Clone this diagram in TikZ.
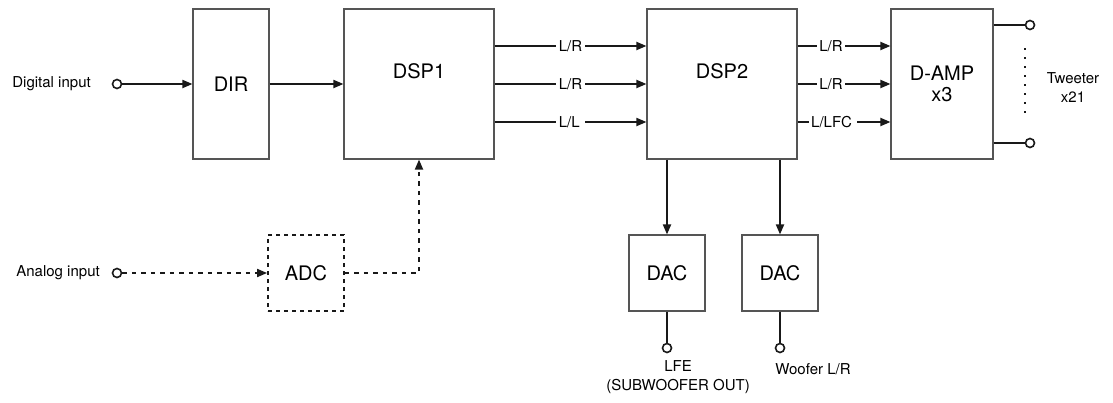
\documentclass[tikz,border=0pt]{standalone}
\usepackage{fontspec}
\setmainfont{TeX Gyre Heros}
\usepackage{tikz}
\usetikzlibrary{arrows.meta, positioning}
\definecolor{boxgray}{RGB}{85, 85, 85}
\definecolor{wiregray}{RGB}{25, 25, 25}

\begin{document}
\begin{tikzpicture}[x=1pt, y=-1pt,
  block/.style={rectangle, draw=boxgray, line width=1.1pt, inner sep=0pt, font=\fontsize{20}{22}\selectfont, align=center},
  dashblock/.style={block, draw=wiregray, line width=1.8pt, dash pattern=on 4pt off 4pt},
  wire/.style={draw=wiregray, line width=1.8pt},
  sig/.style={wire, -{Triangle[length=10pt, width=8pt]}},
  dashsig/.style={sig, dash pattern=on 4.5pt off 5pt},
  port/.style={circle, draw=wiregray, fill=white, line width=1.6pt, inner sep=0pt, minimum size=9pt},
  lbl/.style={fill=white, inner sep=2.5pt, font=\fontsize{15}{18}\selectfont},
  txt/.style={inner sep=0pt, font=\fontsize{15}{19}\selectfont, align=center}]

\useasboundingbox (0,0) rectangle (1113,402);

% Inputs
\node[txt, anchor=east] at (91,84) (dintxt) {Digital input};
\node[port] at (117,84) (dinport) {};
\node[txt, anchor=east] at (100,273) (aintxt) {Analog input};
\node[port] at (117,273) (ainport) {};

% Blocks
\node[block, minimum width=76, minimum height=150] at (231,84) (dir) {DIR};
\node[block, minimum width=150, minimum height=150] at (419,84) (dspone) {};
\node[block, draw=none] at (419,71) (dsponetxt) {DSP1};
\node[block, minimum width=150, minimum height=150] at (722,84) (dsptwo) {};
\node[block, draw=none] at (722,71) (dsptwotxt) {DSP2};
\node[block, minimum width=102, minimum height=150] at (942,84) (damp) {D-AMP\\[-1pt]x3};
\node[dashblock, minimum width=76, minimum height=76] at (306,273) (adc) {ADC};
\node[block, minimum width=76, minimum height=76] at (667,273) (dacone) {DAC};
\node[block, minimum width=76, minimum height=76] at (780,273) (dactwo) {DAC};

% Outputs
\node[port] at (1030,25) (tweeta) {};
\node[port] at (1030,143) (tweetb) {};
\node[txt] at (1073,88) (tweettxt) {Tweeter\\x21};
\node[port] at (667,348) (lfeport) {};
\node[port] at (780,348) (wooferport) {};
\node[txt] at (678,377) (lfetxt) {LFE\\(SUBWOOFER OUT)};
\node[txt] at (813,369) (woofertxt) {Woofer L/R};

% Connections
\draw[sig] (dinport) -- (dir);
\draw[sig] (dir) -- (dspone);
\draw[dashsig] (ainport) -- (adc);
\draw[dashsig] (adc.east) -| (dspone.south);

\draw[sig] ([yshift=38pt]dspone.east) -- node[lbl] {L/R} ([yshift=38pt]dsptwo.west);
\draw[sig] (dspone.east) -- node[lbl] {L/R} (dsptwo.west);
\draw[sig] ([yshift=-38pt]dspone.east) -- node[lbl] {L/L\,} ([yshift=-38pt]dsptwo.west);

\draw[sig] ([yshift=38pt]dsptwo.east) -- node[lbl, pos=0.36] {L/R} ([yshift=38pt]damp.west);
\draw[sig] (dsptwo.east) -- node[lbl, pos=0.36] {L/R} (damp.west);
\draw[sig] ([yshift=-38pt]dsptwo.east) -- node[lbl, pos=0.38] {L/LFC\,} ([yshift=-38pt]damp.west);

\foreach \dac in {dacone,dactwo} {
  \draw[sig] (dsptwo.south -| \dac.north) -- (\dac.north);
}
\draw[wire] (dacone.south) -- (lfeport);
\draw[wire] (dactwo.south) -- (wooferport);

\draw[wire] (damp.east |- tweeta) -- (tweeta);
\draw[wire] (damp.east |- tweetb) -- (tweetb);
\draw[wire, dash pattern=on 2pt off 7pt] ([xshift=-5pt, yshift=-23pt]tweeta.center) -- ([xshift=-5pt, yshift=25pt]tweetb.center);

\end{tikzpicture}
\end{document}
